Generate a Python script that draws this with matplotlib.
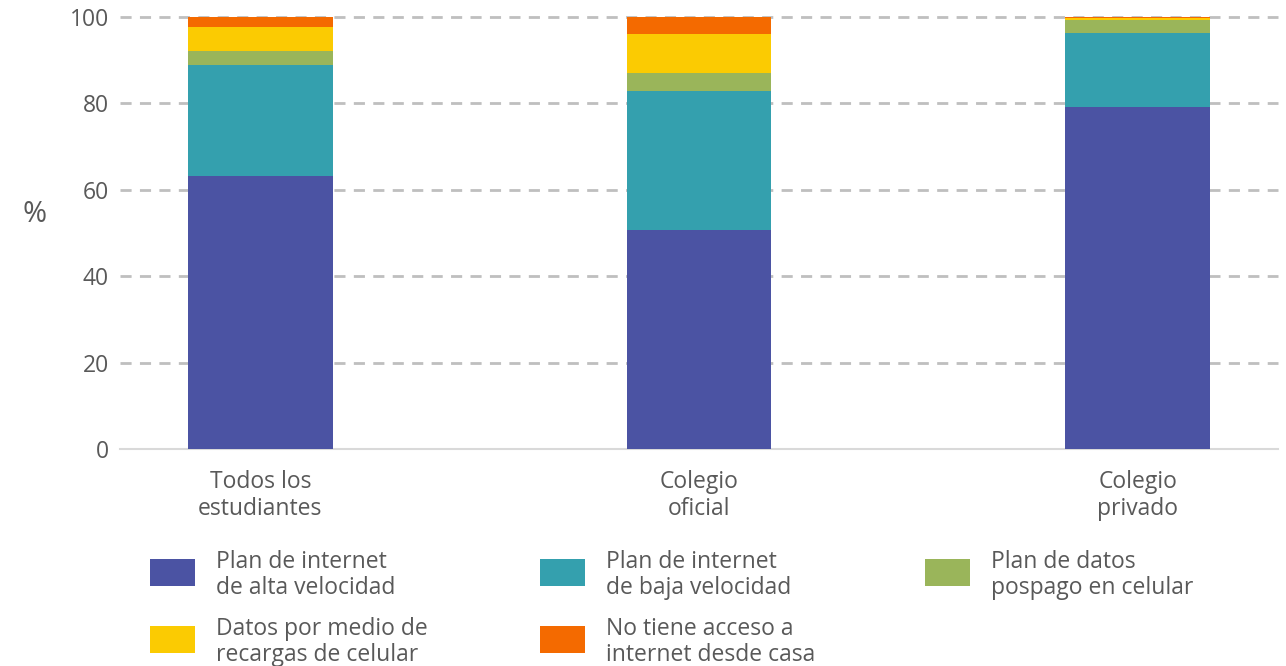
import matplotlib
matplotlib.use("Agg")
import matplotlib.pyplot as plt
from matplotlib.patches import Rectangle
import numpy as np

plt.rcParams['font.family'] = ['Open Sans', 'DejaVu Sans']

# categories and stacked values (%)
categorias = ["Todos los\nestudiantes", "Colegio\noficial", "Colegio\nprivado"]
alta_velocidad = [63.2, 50.7, 79.2]
baja_velocidad = [25.7, 32.2, 17.1]
pospago = [3.3, 4.1, 2.9]
recargas = [5.5, 9.1, 0.5]
sin_acceso = [2.3, 3.9, 0.3]

series = [alta_velocidad, baja_velocidad, pospago, recargas, sin_acceso]
etiquetas = ["Plan de internet\nde alta velocidad",
             "Plan de internet\nde baja velocidad",
             "Plan de datos\npospago en celular",
             "Datos por medio de\nrecargas de celular",
             "No tiene acceso a\ninternet desde casa"]
colores = ["#4B53A3", "#34A0AE", "#9AB55A", "#FBCB02", "#F46A00"]
yticks = [0, 20, 40, 60, 80, 100]

gris = "#595959"
fs = 16.5

fig = plt.figure(figsize=(12.86, 6.66), dpi=100)
ax = fig.add_axes([120 / 1286, 1 - 449 / 666, 1158 / 1286, 432 / 666])

x = np.arange(len(categorias))
bottom = np.zeros(len(categorias))
for vals, col in zip(series, colores):
    ax.bar(x, vals, width=0.33, bottom=bottom, color=col, zorder=3)
    bottom += np.array(vals)

ax.set_xlim(-0.32, 2.32)
ax.set_ylim(0, 100)
ax.set_yticks(yticks)
for t in yticks[1:]:
    ax.axhline(t, color="#BFBFBF", lw=2, ls=(0, (4, 3)), zorder=1, clip_on=False)
ax.set_xticks(x)
ax.set_xticklabels(categorias, fontsize=fs, color=gris, linespacing=1.2)
ax.tick_params(axis='x', length=0, pad=15)
ax.tick_params(axis='y', length=0, pad=8, labelsize=fs, labelcolor=gris)
for s in ["top", "right", "left"]:
    ax.spines[s].set_visible(False)
ax.spines["bottom"].set_color("#D9D9D9")
ax.spines["bottom"].set_linewidth(1.5)

fig.text(35 / 1286, 1 - 215 / 666, "%", fontsize=21, color=gris, ha="center", va="center")

# legend drawn row-wise
col_x = [150, 540, 925]
row_y = [573, 640]
for i, (lab, col) in enumerate(zip(etiquetas, colores)):
    r, c = divmod(i, 3)
    px, py = col_x[c], row_y[r]
    fig.patches.append(Rectangle((px / 1286, 1 - (py + 13) / 666), 45 / 1286, 27 / 666,
                                 transform=fig.transFigure, facecolor=col, edgecolor="none"))
    fig.text((px + 66) / 1286, 1 - (py + 2) / 666, lab, fontsize=fs, color=gris,
             ha="left", va="center", linespacing=1.12)

fig.savefig("out.png", dpi=100)
